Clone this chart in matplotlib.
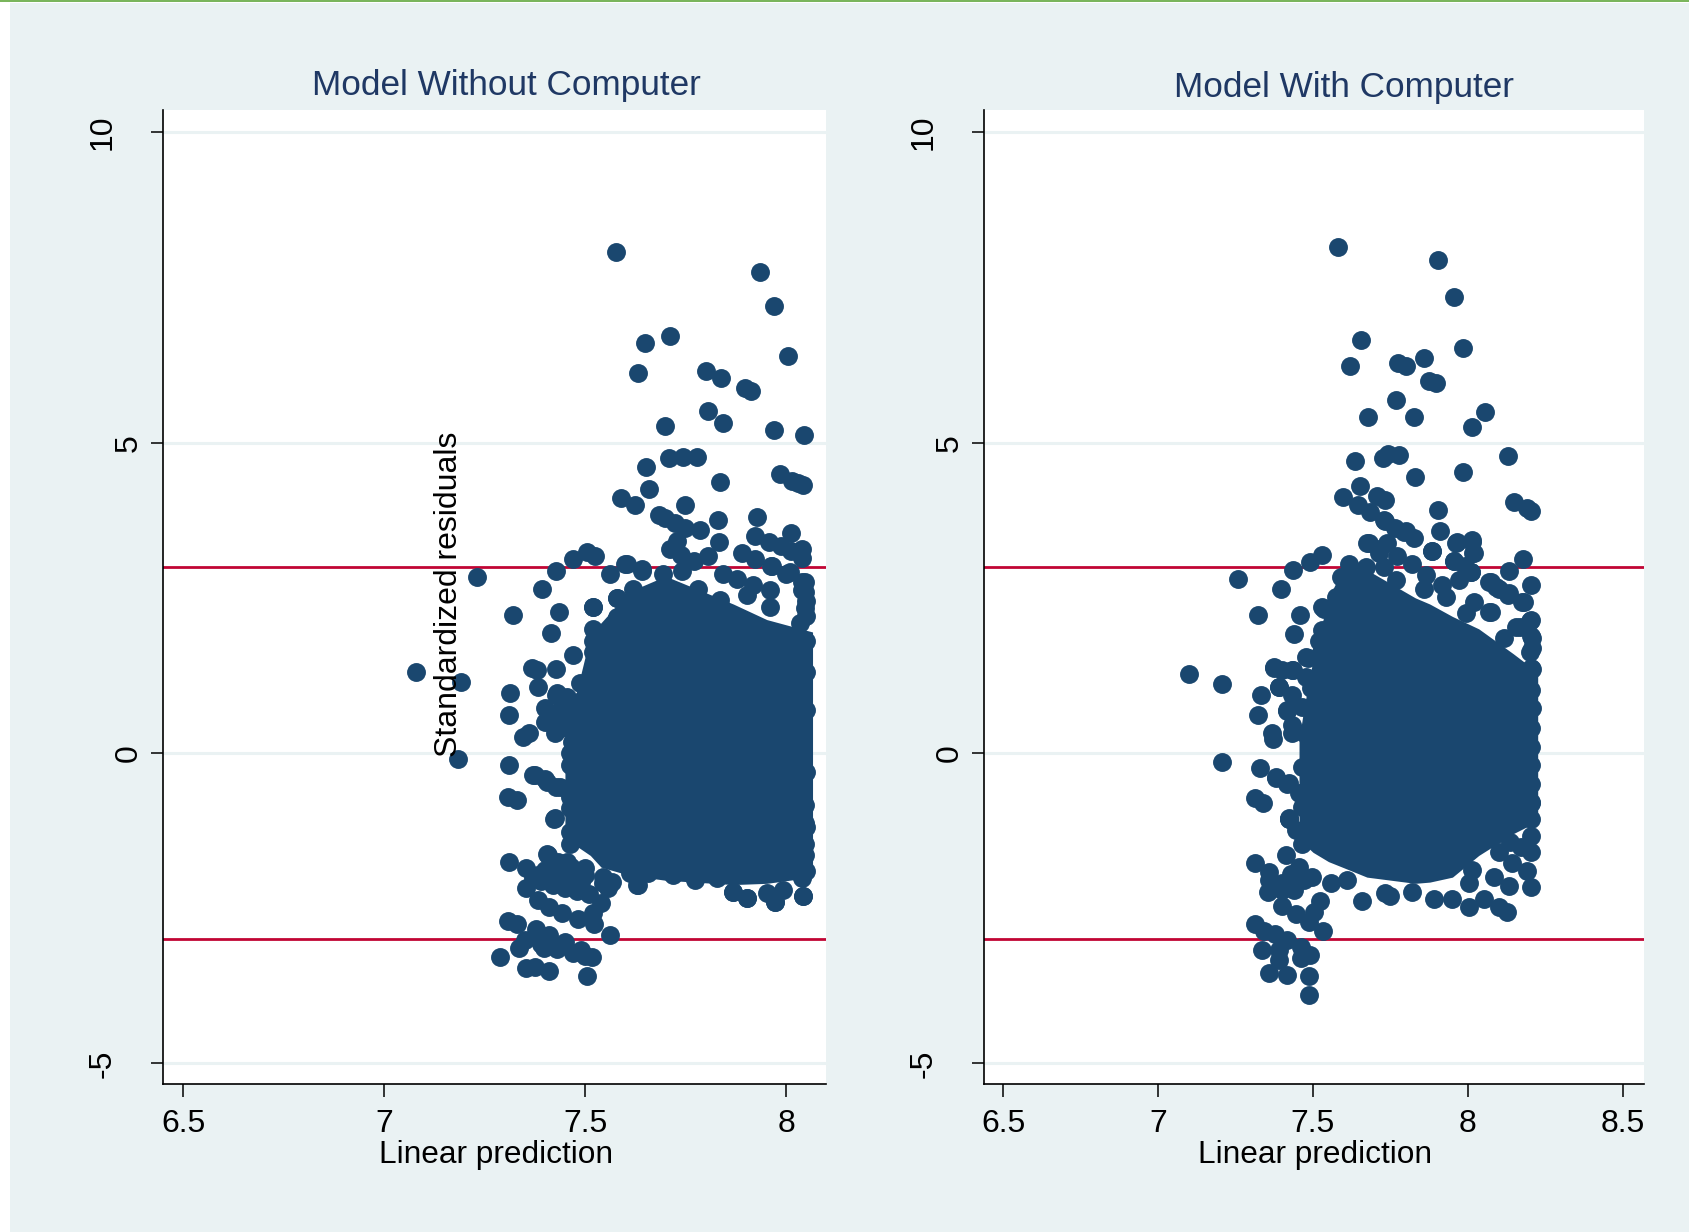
import matplotlib
matplotlib.use("Agg")
import matplotlib.pyplot as plt
from matplotlib.patches import Rectangle

plt.rcParams['font.family'] = ['Liberation Sans', 'DejaVu Sans']

W, H = 1689, 1232

# model without computer: points that can be told apart
x1 = [7.577,7.936,7.971,8.005,7.649,7.711,7.633,7.802,7.839,7.898,7.914,7.807,7.842,7.70,7.971,8.046,
      7.708,7.743,7.778,7.652,7.984,7.837,8.016,8.03,8.043,7.66,7.59,7.625,7.748,7.684,7.70,7.724,7.748,7.786,7.831,7.928,7.922,8.013,
      7.73,7.711,7.738,7.772,7.807,7.834,7.957,7.987,8.013,8.04,8.04,7.89,7.922,7.962,8.0,8.04,8.04,
      7.47,7.505,7.526,7.427,7.392,7.231,7.322,7.435,7.416,7.47,7.368,7.381,7.427,7.079,7.191,7.383,7.314,7.312,7.427,7.443,
      7.563,7.60,7.58,7.58,7.52,7.641,7.312,7.309,7.33,7.183,7.37,7.40,7.427,7.424,
      7.312,7.352,7.352,7.384,7.405,7.432,7.464,7.499,7.545,7.558,7.384,7.411,7.443,7.483,7.52,7.539,7.523,7.563,
      7.309,7.33,7.379,7.411,7.451,7.491,7.518,7.336,7.288,7.352,7.376,7.411,7.505,7.397,
      8.043,7.972,7.902,7.868,7.63,8.05,8.05,8.05,8.05,8.05,8.05,8.05,8.05,7.36,7.345,7.40,7.44,7.47,
      # edge of the solid mass, top
      7.604,7.641,7.62,7.62,7.579,7.579,7.52,7.694,7.741,7.781,7.836,7.843,7.878,7.918,7.96,7.903,7.965,8.01,8.047,8.047,8.047,8.035,7.96,
      7.629,7.52,7.52,7.52,7.57,7.669,7.488,7.43,7.455,7.493,7.40,7.433,7.463,7.418,7.425,7.468,7.463,7.463,
      # edge of the solid mass, bottom
      7.376,7.405,7.438,7.463,7.463,7.425,7.463,7.463,7.408,7.455,7.50,7.545,7.567,7.632,7.657,7.774,7.828,7.868,7.903,7.973,8.042,8.04,8.042,
      8.047,8.047,8.047,8.047,7.953,7.993,7.719,7.612,
      # bands below the mass
      7.37,7.39,7.42,7.45,7.48,7.51,7.40,7.43,7.46,7.49,7.35,7.39,7.43,7.47,7.50]
y1 = [8.08,7.75,7.21,6.40,6.60,6.72,6.12,6.15,6.05,5.88,5.84,5.51,5.32,5.27,5.20,5.13,
      4.75,4.77,4.77,4.61,4.49,4.37,4.38,4.35,4.32,4.26,4.11,4.0,3.99,3.83,3.78,3.71,3.62,3.59,3.76,3.81,3.50,3.55,
      3.41,3.28,3.19,3.10,3.17,3.40,3.40,3.33,3.26,3.28,3.14,3.22,3.12,3.02,2.89,2.76,2.62,
      3.12,3.24,3.17,2.93,2.65,2.84,2.22,2.27,1.94,1.58,1.37,1.33,1.35,1.30,1.14,1.06,0.97,0.62,0.94,0.85,
      2.88,3.05,2.50,2.18,2.36,2.96,-0.19,-0.71,-0.76,-0.09,-0.35,-0.42,-0.54,-1.06,
      -1.75,-1.85,-2.18,-1.96,-1.63,-1.75,-1.84,-1.96,-2.10,-2.17,-2.37,-2.48,-2.58,-2.67,-2.58,-2.41,-2.76,-2.93,
      -2.70,-2.76,-2.84,-2.93,-3.05,-3.17,-3.28,-3.14,-3.28,-3.47,-3.45,-3.52,-3.60,-3.14,
      -2.30,-2.40,-2.34,-2.24,-2.12,2.45,2.20,1.80,1.30,0.70,-0.30,-1.20,-1.90,0.33,0.25,0.50,0.40,0.70,
      3.05,2.94,2.65,2.46,2.50,2.19,2.35,2.89,2.94,2.65,2.46,2.89,2.81,2.70,2.62,2.54,3.02,2.91,2.75,2.59,2.33,2.10,2.35,
      2.06,2.0,1.81,1.62,1.92,1.81,1.12,0.96,0.90,0.85,0.72,0.66,0.56,0.48,0.32,0.17,0.0,-0.2,
      -0.36,-0.47,-0.55,-0.71,-0.89,-1.05,-1.28,-1.46,-1.65,-1.76,-1.86,-2.0,-2.08,-2.13,-1.94,-2.05,-2.02,-2.24,-2.34,-2.40,-2.31,-2.02,-1.84,
      -1.65,-1.46,-1.13,-0.84,-2.26,-2.21,-1.97,-1.94,
      -2.02,-2.06,-2.12,-2.17,-2.22,-2.27,-1.88,-1.96,-2.02,-2.08,-3.02,-3.08,-3.16,-3.22,-3.27]

# model without computer: the solid overplotted mass, top and bottom edge
core1_x = [7.45,7.47,7.513,7.54,7.61,7.70,7.869,7.952,8.066]
core1_top = [0.3,0.75,1.89,2.1,2.6,2.85,2.4,2.15,1.95]
core1_bot = [-1.15,-1.46,-1.65,-1.84,-1.97,-2.05,-2.12,-2.1,-2.0]

# model with computer: points that can be told apart
x2 = [7.58,7.903,7.955,7.983,7.656,7.618,7.774,7.799,7.858,7.875,7.896,7.767,7.677,7.826,8.056,8.014,7.983,8.128,
      7.635,7.726,7.743,7.778,7.83,7.653,7.597,7.646,7.684,7.708,7.733,8.149,8.191,8.205,7.903,7.91,7.733,7.764,7.799,
      7.681,7.712,7.965,8.014,7.885,8.017,7.955,7.99,8.01,8.177,8.132,8.073,8.10,8.128,8.174,8.205,8.073,8.201,8.167,8.205,8.201,8.205,
      7.257,7.396,7.434,7.49,7.528,7.323,7.458,7.438,7.535,7.483,7.583,7.10,7.208,7.375,7.399,7.434,7.389,7.333,7.323,7.368,7.372,7.417,
      7.205,7.33,7.382,7.417,7.313,7.34,7.424,
      # edge of the solid mass, top
      7.589,7.616,7.574,7.529,7.577,7.529,7.626,7.519,7.526,7.671,7.729,7.794,7.826,7.674,7.739,7.713,7.771,7.819,7.864,7.858,7.729,7.768,
      7.884,7.961,8.013,8.019,7.955,8.01,7.916,7.929,7.971,8.019,7.994,8.068,8.09,8.132,8.181,8.068,8.203,8.155,8.116,8.206,8.206,8.206,8.203,8.206,
      7.477,7.374,7.433,7.477,7.494,7.39,7.432,7.416,7.465,7.432,7.432,7.471,7.465,7.38,7.423,7.455,7.465,7.423,
      8.205,8.205,8.205,8.205,8.205,
      # lower part
      7.422,7.444,7.465,7.412,7.313,7.358,7.455,7.356,7.40,7.358,7.498,7.557,7.61,7.659,7.731,7.75,7.82,7.89,7.949,8.005,8.051,8.003,8.014,
      8.10,8.127,8.084,8.132,8.143,8.10,8.137,8.17,8.202,8.191,8.204,8.202,8.202,8.202,8.089,
      7.40,7.444,7.487,7.532,7.524,7.503,7.313,7.342,7.377,7.417,7.46,7.492,7.46,7.336,7.39,7.39,7.358,7.417,7.487,7.487,
      7.43,7.47,7.40,7.44]
y2 = [8.15,7.94,7.35,6.53,6.66,6.24,6.29,6.24,6.36,6.0,5.96,5.68,5.41,5.42,5.49,5.25,4.52,4.78,
      4.70,4.75,4.82,4.80,4.44,4.30,4.12,3.99,3.88,4.14,4.07,4.04,3.95,3.90,3.92,3.57,3.73,3.62,3.57,
      3.38,3.28,3.40,3.40,3.26,3.22,3.10,3.02,2.91,3.12,2.93,2.76,2.65,2.55,2.44,2.70,2.27,2.13,2.03,1.89,1.63,1.37,
      2.81,2.65,2.95,3.08,3.19,2.22,2.22,1.91,2.32,1.53,2.22,1.27,1.11,1.37,1.33,1.33,1.06,0.94,0.61,0.33,0.23,0.68,
      -0.14,-0.24,-0.40,-0.50,-0.73,-0.80,-1.06,
      2.83,3.05,2.51,2.35,2.22,1.98,2.09,1.81,1.62,2.99,3.75,3.56,3.46,3.39,3.39,3.23,3.18,3.05,2.86,2.65,2.99,2.78,
      3.26,3.39,3.43,3.23,3.10,2.91,2.70,2.51,2.78,2.43,2.25,2.75,2.67,2.57,2.43,2.27,2.14,2.03,1.85,1.86,1.69,1.36,1.01,0.72,
      1.54,1.38,1.33,1.22,1.04,1.06,0.93,0.69,0.74,0.32,0.45,0.32,-0.23,-0.39,-0.49,-0.65,-0.87,-1.05,
      0.4,0.1,-0.2,-0.5,-0.8,
      -1.057,-1.245,-1.46,-1.65,-1.78,-1.916,-1.836,-2.24,-2.21,-2.05,-2.0,-2.10,-2.05,-2.38,-2.25,-2.31,-2.24,-2.36,-2.36,-2.48,-2.35,-2.10,-1.89,
      -2.48,-2.56,-2.0,-2.15,-1.78,-1.59,-1.43,-1.51,-1.59,-1.90,-2.16,-1.33,-1.06,-0.79,-1.30,
      -2.47,-2.59,-2.72,-2.86,-2.38,-2.56,-2.76,-2.86,-2.91,-3.02,-3.12,-3.26,-3.31,-3.18,-3.18,-3.34,-3.54,-3.58,-3.59,-3.90,
      -1.95,-2.05,-2.1,-2.2]

# model with computer: the solid overplotted mass
core2_x = [7.455,7.47,7.50,7.55,7.60,7.674,7.83,7.877,7.95,8.035,8.146,8.225]
core2_top = [0.2,0.7,1.5,2.5,3.0,2.95,2.5,2.4,2.2,2.0,1.6,1.3]
core2_bot = [-1.3,-1.46,-1.6,-1.75,-1.85,-2.0,-2.1,-2.08,-2.0,-1.65,-1.3,-1.1]

yticks = [-5, 0, 5, 10]
ytick_pads = [23.5, 4.5, 4.5, 23.5]
xticks1 = [6.5, 7, 7.5, 8]
xticklabels1 = ['6.5', '7', '7.5', '8']
xticks2 = [6.5, 7, 7.5, 8, 8.5]
xticklabels2 = ['6.5', '7', '7.5', '8', '8.5']

navy = '#1a476f'
bg = '#eaf2f3'
red = '#c10534'

fig = plt.figure(figsize=(W / 100, H / 100), dpi=100, facecolor='white')
fig.add_artist(Rectangle((10 / W, 0), 1 - 10 / W, 1 - 3 / H, transform=fig.transFigure, fc=bg, ec='none', zorder=-2))
fig.add_artist(Rectangle((0, 1 - 2 / H), 1, 2 / H, transform=fig.transFigure, fc='#7ab55c', ec='none', zorder=-2))


def panel(left, right, xlim, xs, ys, cx, ctop, cbot, xt, xtl):
    top, bottom = 110, 1084
    ax = fig.add_axes([left / W, 1 - bottom / H, (right - left) / W, (bottom - top) / H])
    ax.set_xlim(xlim)
    ax.set_ylim(-5.333, 10.36)
    for s in ['top', 'right']:
        ax.spines[s].set_visible(False)
    for s in ['left', 'bottom']:
        ax.spines[s].set_linewidth(1.2)
    ax.grid(axis='y', color=bg, linewidth=2.2, zorder=1)
    ax.set_axisbelow(True)
    ax.axhline(3, color=red, linewidth=2, zorder=2)
    ax.axhline(-3, color=red, linewidth=2, zorder=2)
    ax.fill_between(cx, cbot, ctop, color=navy, linewidth=0, zorder=3)
    ax.scatter(xs, ys, s=185, color=navy, linewidths=0, zorder=3)
    ax.set_xticks(xt)
    ax.set_xticklabels(xtl)
    ax.tick_params(axis='x', length=9, width=1.1, labelsize=23, pad=9)
    ax.set_yticks(yticks)
    ax.set_yticklabels([str(v) for v in yticks], rotation=90, va='center', fontsize=23)
    ax.tick_params(axis='y', length=9, width=1.1)
    for t, p in zip(ax.yaxis.get_major_ticks(), ytick_pads):
        t.set_pad(p)
    return ax


ax1 = panel(163, 826, (6.450, 8.0995), x1, y1, core1_x, core1_top, core1_bot, xticks1, xticklabels1)
ax2 = panel(983.5, 1644, (6.437, 8.568), x2, y2, core2_x, core2_top, core2_bot, xticks2, xticklabels2)

title_col = '#1f3864'
fig.text(506 / W, 1 - 85 / H, 'Model Without Computer', color=title_col, fontsize=25.3, ha='center', va='center')
fig.text(1344 / W, 1 - 88 / H, 'Model With Computer', color=title_col, fontsize=25.3, ha='center', va='center')
fig.text(496 / W, 1 - 1155 / H, 'Linear prediction', fontsize=22.8, ha='center', va='center')
fig.text(1315 / W, 1 - 1155 / H, 'Linear prediction', fontsize=22.8, ha='center', va='center')
t = fig.text(449 / W, 1 - 594 / H, 'Standardized residuals', fontsize=23, rotation=90, ha='center', va='center')
t.set_zorder(10)

fig.savefig('out.png', dpi=100)
